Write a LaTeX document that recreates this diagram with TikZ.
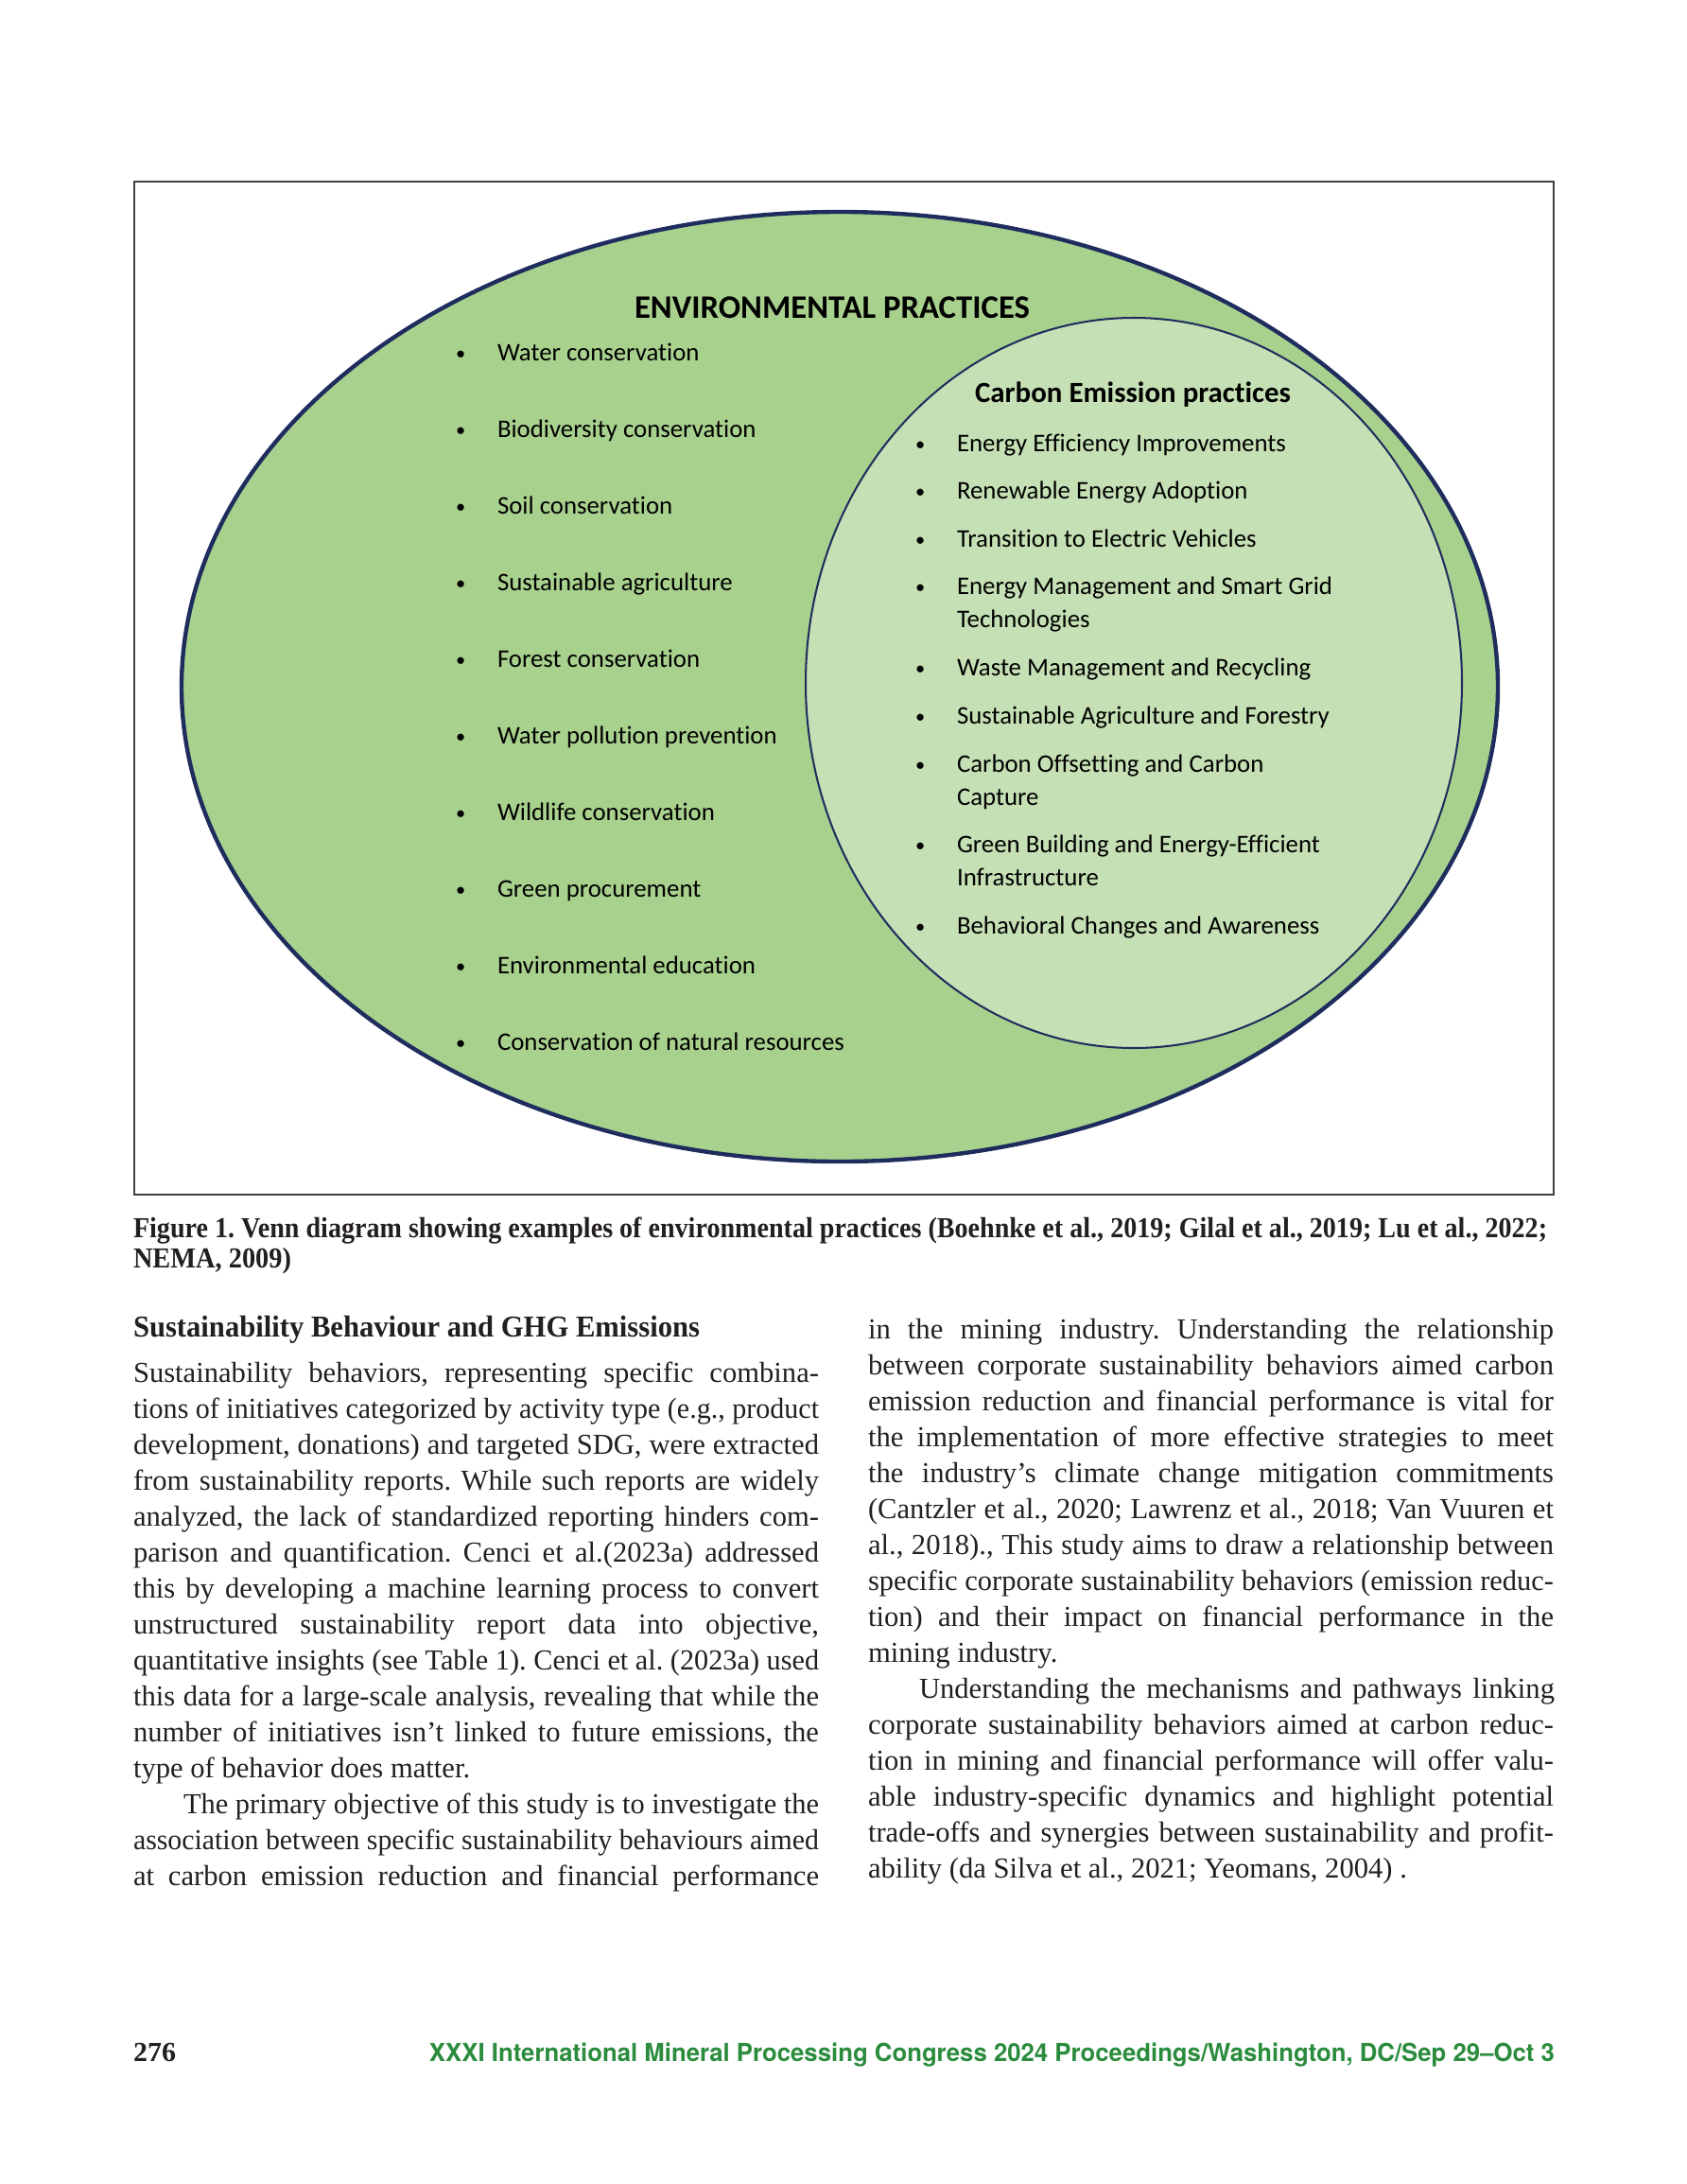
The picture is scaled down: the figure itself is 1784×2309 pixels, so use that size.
\documentclass[tikz,border=0pt]{standalone}
\usepackage{fontspec}
\usepackage{graphicx}
\usepackage{xcolor}
\setmainfont{Liberation Serif}
\newfontfamily\calibri{Carlito}[Ligatures=NoCommon]
\newfontfamily\heros{TeX Gyre Heros}
\definecolor{outergreen}{HTML}{A9D18E}
\definecolor{innergreen}{HTML}{C5E0B4}
\definecolor{vennnavy}{HTML}{1F2D5E}
\definecolor{framegray}{HTML}{404040}
\definecolor{footgreen}{HTML}{2A8C3C}
\definecolor{inkblack}{HTML}{231F20}
\newlength\pxu \setlength\pxu{0.34305pt}
\newlength\colw \setlength\colw{725\pxu}
\newlength\indw \setlength\indw{672\pxu}
\newlength\linew
% justified body line: stretch the spaces, or squeeze if too long
\newcommand\jline[2][\colw]{\settowidth\linew{#2}%
  \ifdim\linew>#1\resizebox{#1}{\height}{#2}\else\makebox[#1][s]{#2}\fi}
\newcommand\fitw[2]{\resizebox{#1\pxu}{\height}{#2}}
\frenchspacing

\begin{document}
\begin{tikzpicture}[x=\pxu, y=-\pxu,
    every node/.style={inner sep=0pt, outer sep=0pt},
    venntitle/.style={font=\calibri\bfseries\fontsize{11.9}{14}\selectfont, anchor=base},
    item/.style={font=\calibri\fontsize{9.2}{12}\selectfont, anchor=base west},
    dot/.style={font=\calibri\fontsize{7}{9}\selectfont, anchor=base west},
    bodyline/.style={font=\fontsize{10.5}{13}\selectfont, anchor=base west, text=inkblack},
  ]
  \useasboundingbox (0,0) rectangle (1784,2309);

  % figure frame and the two sets
  \draw[framegray, line width=0.7pt] (142,192) rectangle (1643,1263);
  \draw[vennnavy, line width=1.5pt, fill=outergreen] (888,726) ellipse [x radius=696, y radius=502];
  \draw[vennnavy, line width=0.7pt, fill=innergreen] (1199,722) ellipse [x radius=347, y radius=386];

  \node[venntitle] (envtitle) at (880,336) {ENVIRONMENTAL PRACTICES};
  \node[venntitle, font=\calibri\bfseries\fontsize{10.6}{13}\selectfont] (cetitle) at (1198,425)
    {Carbon Emission practices};

  \foreach \y/\txt [count=\i] in {381/Water conservation, 462/Biodiversity conservation,
      543/Soil conservation, 624/Sustainable agriculture, 705/Forest conservation,
      786/Water pollution prevention, 867/Wildlife conservation, 948/Green procurement,
      1029/Environmental education, 1110/Conservation of natural resources}
    {\node[dot] (envb\i) at (482,\y-1) {•};
     \node[item] (env\i) at (526,\y) {\txt};}

  \foreach \y/\a/\b [count=\i] in {477/Energy Efficiency Improvements/,
      527/Renewable Energy Adoption/, 578/Transition to Electric Vehicles/,
      628/Energy Management and Smart Grid/Technologies,
      714/Waste Management and Recycling/, 765/Sustainable Agriculture and Forestry/,
      816/Carbon Offsetting and Carbon/Capture,
      901/Green Building and Energy-Efficient/Infrastructure,
      987/Behavioral Changes and Awareness/}
    {\node[dot] (ceb\i) at (968,\y-1) {•};
     \node[item] (ce\i) at (1012,\y) {\a};
     \node[item] (cec\i) at (1012,\y+35) {\b};}

  % caption
  \node[bodyline, font=\bfseries\fontsize{10.5}{13}\selectfont] (cap1) at (141,1308)
    {\fitw{1495}{Figure 1. Venn diagram showing examples of environmental practices (Boehnke et al., 2019; Gilal et al., 2019; Lu et al., 2022;}};
  \node[bodyline, font=\bfseries\fontsize{10.5}{13}\selectfont] (cap2) at (141,1340)
    {\fitw{167}{NEMA, 2009)}};

  % left column
  \node[bodyline, font=\bfseries\fontsize{11}{13}\selectfont] (heading) at (141,1413)
    {\fitw{599}{Sustainability Behaviour and GHG Emissions}};
  \foreach \ln [count=\i from 0] in {
      {Sustainability behaviors, representing specific combina-},
      {tions of initiatives categorized by activity type (e.g., product},
      {development, donations) and targeted SDG, were extracted},
      {from sustainability reports. While such reports are widely},
      {analyzed, the lack of standardized reporting hinders com-},
      {parison and quantification. Cenci et al.(2023a) addressed},
      {this by developing a machine learning process to convert},
      {unstructured sustainability report data into objective,},
      {quantitative insights (see Table 1). Cenci et al. (2023a) used},
      {this data for a large-scale analysis, revealing that while the},
      {number of initiatives isn’t linked to future emissions, the}}
    \node[bodyline] (left\i) at (141,1461+38*\i) {\jline{\ln}};
  \node[bodyline] (left11) at (141,1879) {type of behavior does matter.};
  \node[bodyline] (left12) at (194,1917)
    {\jline[\indw]{The primary objective of this study is to investigate the}};
  \node[bodyline] (left13) at (141,1955)
    {\jline{association between specific sustainability behaviours aimed}};
  \node[bodyline] (left14) at (141,1993)
    {\jline{at carbon emission reduction and financial performance}};

  % right column
  \foreach \ln [count=\i from 0] in {
      {in the mining industry. Understanding the relationship},
      {between corporate sustainability behaviors aimed carbon},
      {emission reduction and financial performance is vital for},
      {the implementation of more effective strategies to meet},
      {the industry’s climate change mitigation commitments},
      {(Cantzler et al., 2020; Lawrenz et al., 2018; Van Vuuren et},
      {al., 2018)., This study aims to draw a relationship between},
      {specific corporate sustainability behaviors (emission reduc-},
      {tion) and their impact on financial performance in the}}
    \node[bodyline] (right\i) at (918,1415+38*\i) {\jline{\ln}};
  \node[bodyline] (right9) at (918,1757) {mining industry.};
  \node[bodyline] (right10) at (972,1795)
    {\jline[\indw]{Understanding the mechanisms and pathways linking}};
  \foreach \ln [count=\i from 11] in {
      {corporate sustainability behaviors aimed at carbon reduc-},
      {tion in mining and financial performance will offer valu-},
      {able industry-specific dynamics and highlight potential},
      {trade-offs and synergies between sustainability and profit-}}
    \node[bodyline] (right\i) at (918,1415+38*\i) {\jline{\ln}};
  \node[bodyline] (right15) at (918,1985) {ability (da Silva et al., 2021; Yeomans, 2004) .};

  % footer
  \node[bodyline, font=\bfseries\fontsize{10}{12}\selectfont] (pageno) at (141,2179) {\fitw{45}{276}};
  \node[anchor=base east, font=\heros\bfseries\fontsize{9}{11}\selectfont, text=footgreen] (footer)
    at (1644,2179)
    {\fitw{1190}{XXXI International Mineral Processing Congress 2024 Proceedings/Washington, DC/Sep 29–Oct 3}};
\end{tikzpicture}
\end{document}
